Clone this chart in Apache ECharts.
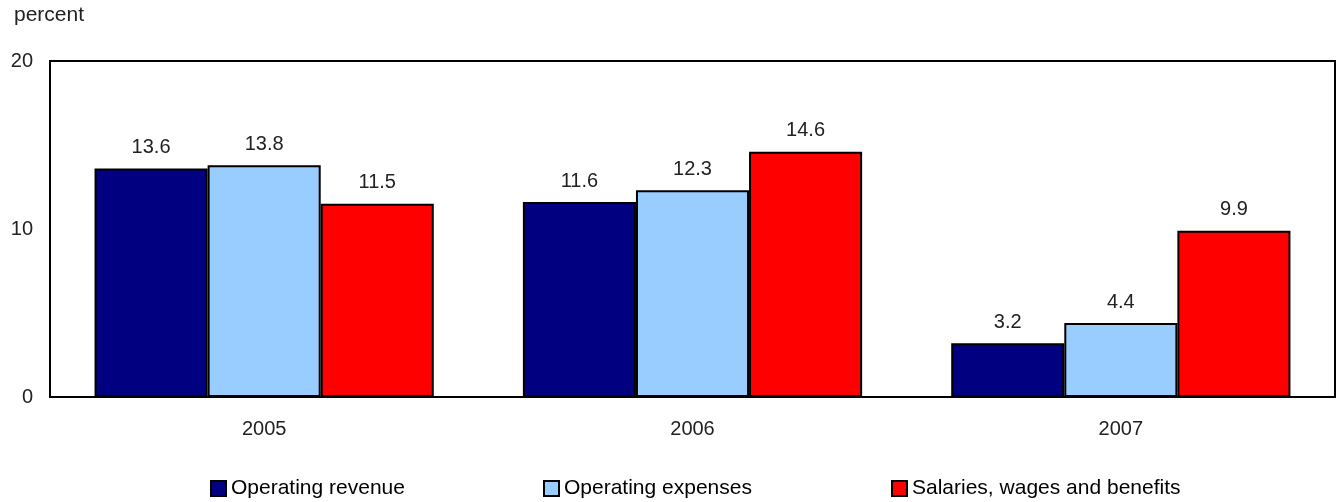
<!DOCTYPE html>
<html>
<head>
<meta charset="utf-8">
<script src="https://cdn.jsdelivr.net/npm/echarts@6/dist/echarts.min.js"></script>
<style>
  html, body { margin: 0; padding: 0; background: #fff; }
  #chart { width: 1336px; height: 502px; }
</style>
</head>
<body>
<div id="chart"></div>
<script>
// Year-over-year change, percent
const years = ['2005', '2006', '2007'];
const operatingRevenue = [13.6, 11.6, 3.2];
const operatingExpenses = [13.8, 12.3, 4.4];
const salariesWages = [11.5, 14.6, 9.9];
const yTicks = [0, 10, 20];

const FONT = '"Liberation Sans", Arial, sans-serif';
const chart = echarts.init(document.getElementById('chart'));

function barSeries(name, data, color) {
  return {
    name: name,
    type: 'bar',
    data: data,
    barGap: '0%',
    barCategoryGap: '20.8%',
    itemStyle: { color: color, borderColor: '#000', borderWidth: 2 },
    label: {
      show: true,
      position: 'top',
      distance: 11,
      fontFamily: FONT,
      fontSize: 20,
      color: '#222',
      formatter: p => p.value.toFixed(1)
    }
  };
}

function legendAt(name, left) {
  return {
    data: [name],
    left: left,
    top: 473,
    itemWidth: 15,
    itemHeight: 15,
    itemGap: 4,
    icon: 'rect',
    textStyle: { fontFamily: FONT, fontSize: 21, color: '#000', padding: [0, 0, 0, 0] },
    itemStyle: { borderColor: '#000', borderWidth: 2 }
  };
}

chart.setOption({
  animation: false,
  backgroundColor: '#fff',
  textStyle: { fontFamily: FONT },
  title: {
    text: 'percent',
    left: 9,
    top: 0,
    textStyle: { fontFamily: FONT, fontSize: 21, fontWeight: 'normal', color: '#222' }
  },
  legend: [
    legendAt('Operating revenue', 205),
    legendAt('Operating expenses', 538),
    legendAt('Salaries, wages and benefits', 886)
  ],
  grid: {
    left: 50, right: 1, top: 61, bottom: 105,
    show: true, borderColor: '#000', borderWidth: 2, backgroundColor: 'transparent'
  },
  xAxis: {
    type: 'category',
    data: years,
    axisLine: { lineStyle: { color: '#000', width: 2 } },
    axisTick: { show: false },
    axisLabel: { fontFamily: FONT, fontSize: 20, color: '#222', margin: 22 }
  },
  yAxis: {
    type: 'value',
    min: yTicks[0],
    max: yTicks[yTicks.length - 1],
    interval: 10,
    splitLine: { show: false },
    axisLine: { show: true, lineStyle: { color: '#000', width: 2 } },
    axisTick: { show: false },
    axisLabel: { fontFamily: FONT, fontSize: 20, color: '#222', margin: 17 }
  },
  series: [
    barSeries('Operating revenue', operatingRevenue, '#000080'),
    barSeries('Operating expenses', operatingExpenses, '#99CCFF'),
    barSeries('Salaries, wages and benefits', salariesWages, '#FF0000')
  ]
});
</script>
</body>
</html>
